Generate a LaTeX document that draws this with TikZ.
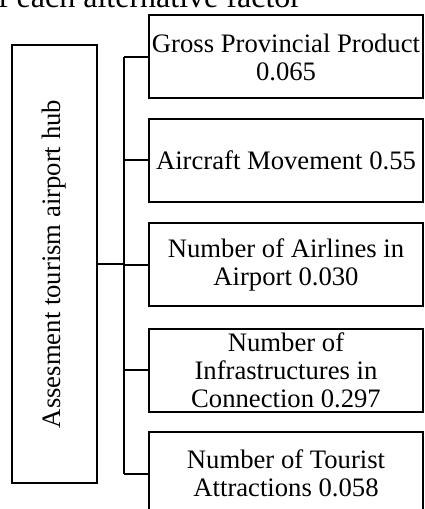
\documentclass[tikz,border=0pt]{standalone}
\usepackage{fontspec}
\setmainfont{Liberation Serif}
\usepackage{tikz}

\tikzset{
  factor/.style={draw, rectangle, minimum width=205.5pt, minimum height=62.25pt,
    align=center, inner sep=0pt, font=\fontsize{20}{21}\selectfont},
  goal/.style={draw, rectangle, minimum width=63.75pt, minimum height=328.5pt,
    inner sep=0pt}
}

\begin{document}
\begin{tikzpicture}[x=0.75pt, y=-0.75pt, line width=1.5pt]
    % page frame, cut at the edges
    \useasboundingbox (0,0) rectangle (424,509);
    \clip (0,0) rectangle (424,509);

    % caption line cut at the top
    \node[anchor=base east, inner sep=0pt, font=\fontsize{24}{26}\selectfont]
      (cap) at (302,8) {of each alternative factor};

    % goal box on the left
    \node[goal] (hub) at (54.5,264)
      {\rotatebox{90}{\fontsize{20}{21}\selectfont Assesment tourism airport hub}};

    % factor boxes
    \node[factor] (f1) at (286,57)    {Gross Provincial Product\\0.065};
    \node[factor] (f2) at (286,160.5) {Aircraft Movement 0.55};
    \node[factor] (f3) at (286,264.5) {Number of Airlines in\\Airport 0.030};
    \node[factor] (f4) at (286,370)   {Number of\\Infrastructures in\\Connection 0.297};
    \node[factor] (f5) at (286,473.5) {Number of Tourist\\Attractions 0.058};

    % connectors
    \draw (hub.east) -- ++(26,0) coordinate (j);
    \draw (j |- f1.west) -- (j |- f5.west);
    \foreach \i in {1,...,5}
      \draw (j |- f\i.west) -- (f\i.west);

\end{tikzpicture}
\end{document}
